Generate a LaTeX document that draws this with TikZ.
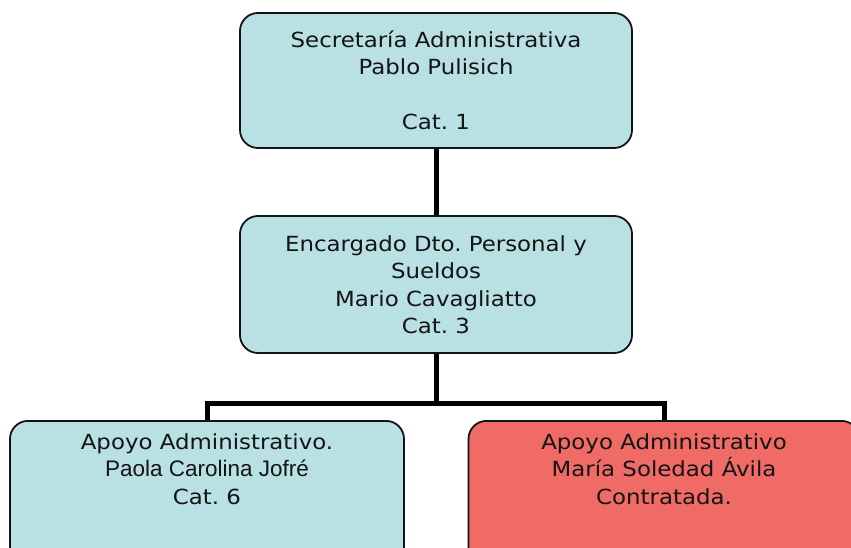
\documentclass[tikz,border=0pt]{standalone}
\usepackage{fontspec}
\setmainfont{DejaVu Sans}[FakeStretch=1.1]
\newfontfamily\arialf{Liberation Sans}
\definecolor{boxblue}{RGB}{185,224,227}
\definecolor{boxred}{RGB}{240,106,102}
\definecolor{inkc}{RGB}{20,20,20}
\frenchspacing
\begin{document}
\begin{tikzpicture}[x=1pt,y=-1pt,
  orgbox/.style={draw=inkc,line width=1.8pt,rounded corners=18pt,fill=boxblue,
    inner sep=0pt,align=center,text=inkc,font=\fontsize{20.8}{27.5}\selectfont},
  label text/.style={inner sep=0pt,align=center,text=inkc,anchor=north,
    font=\fontsize{20.8}{27.5}\selectfont},
  link/.style={draw=black,line width=5pt}]
\useasboundingbox (0,0) rectangle (851,548);
\clip (0,0) rectangle (851,548);

% top and middle boxes
\node[orgbox,minimum width=392pt,minimum height=135pt] (sec) at (436,80.5)
  {Secretaría Administrativa\\Pablo Pulisich\\[27.5pt]Cat. 1};
\node[orgbox,minimum width=392pt,minimum height=137pt] (enc) at (436,284.5)
  {Encargado Dto. Personal y\\Sueldos\\Mario Cavagliatto\\Cat. 3};

% bottom boxes (run past the lower edge)
\node[orgbox,minimum width=394pt,minimum height=150pt,anchor=north] (apl) at (207,420) {};
\node[orgbox,fill=boxred,minimum width=391pt,minimum height=150pt,anchor=north] (apr) at (664,420) {};
\node[label text] (apltext) at (207,433)
  {Apoyo Administrativo.\\{\arialf\fontsize{22.5}{27.5}\selectfont Paola Carolina Jofré}\\Cat. 6};
\node[label text] (aprtext) at (664,433)
  {Apoyo Administrativo\\María Soledad Ávila\\Contratada.};

% connectors
\coordinate (bar) at (436,403);
\draw[link] (sec.south) -- (enc.north);
\draw[link] (enc.south) -- (bar);
\draw[link] (apl.north) |- (bar) -| (apr.north);
\end{tikzpicture}
\end{document}
